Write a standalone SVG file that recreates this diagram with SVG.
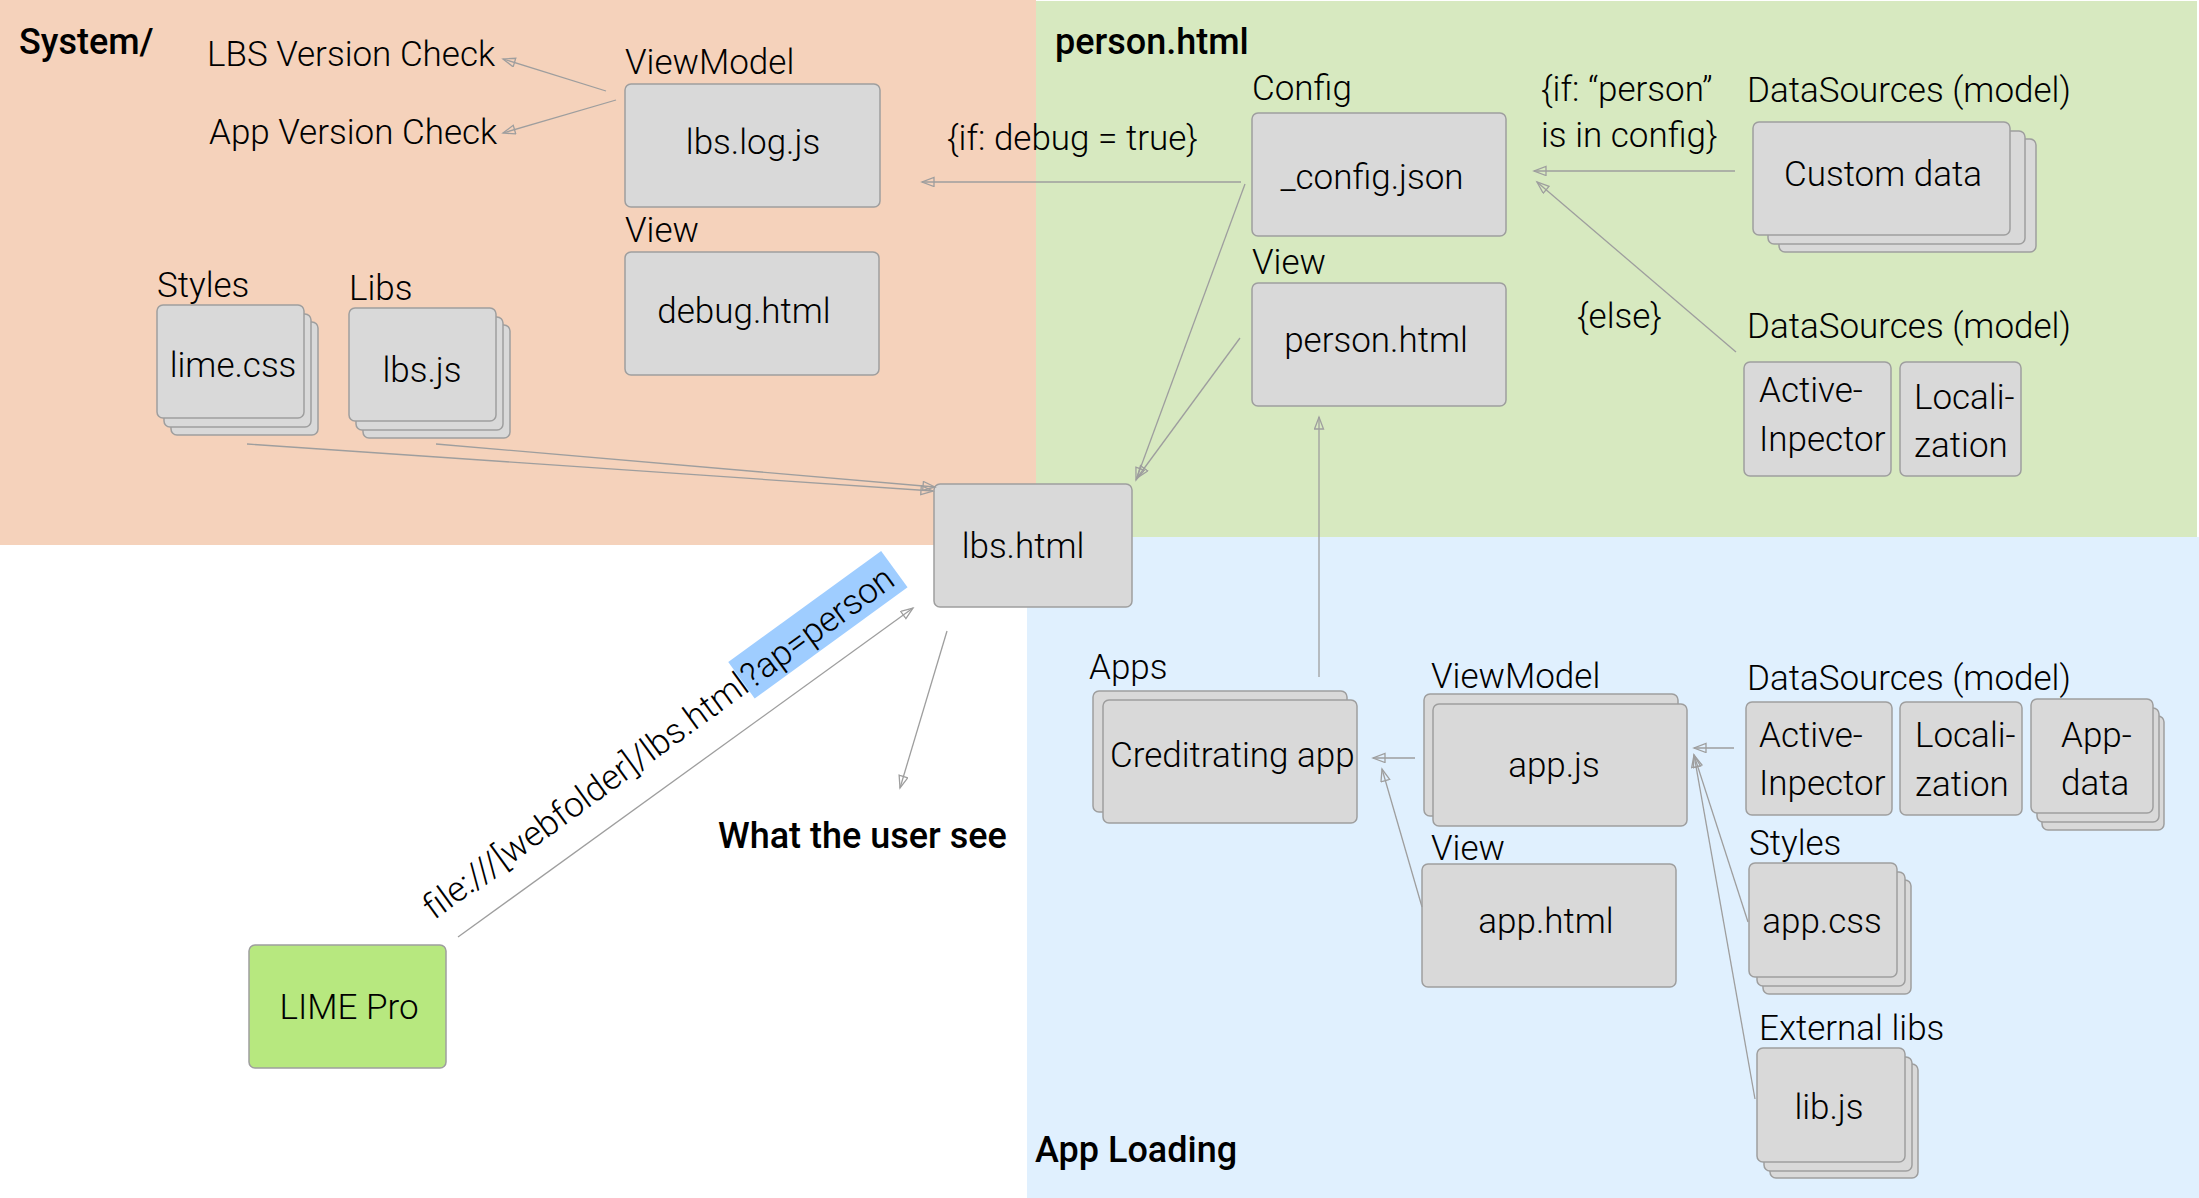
<svg xmlns="http://www.w3.org/2000/svg" width="2199" height="1198" viewBox="0 0 2199 1198">
<defs>
<style>
.bx{fill:#d9d9d9;stroke:#9e9e9e;stroke-width:1.5}
.lime{fill:#b7e87f;stroke:#9e9e9e;stroke-width:1.5}
.t{font-family:"Roboto Light",Roboto,"Liberation Sans",sans-serif;font-weight:300;font-size:35px;fill:#000}
.h{font-family:Roboto,"Liberation Sans",sans-serif;font-weight:500;font-size:36px}
.c{text-anchor:middle}
.ln{stroke:#9e9e9e;stroke-width:1.3;fill:none;marker-end:url(#ah)}
</style>
<marker id="ah" markerUnits="userSpaceOnUse" markerWidth="16" markerHeight="12" refX="13" refY="5" orient="auto" viewBox="0 0 16 12">
<path d="M1,0.5 L13,5 L1,9.5 Z" fill="none" stroke="#9e9e9e" stroke-width="1.3"/>
</marker>
</defs>

<g id="backgrounds">
<rect x="0" y="0" width="1036" height="545" fill="#f5d2bb"/>
<rect x="1036" y="1" width="1161" height="536" fill="#d7e9c0"/>
<rect x="1027" y="537" width="1172" height="661" fill="#e0f0fe"/>
</g>

<g id="titles">
<text class="t h" x="19" y="54">System/</text>
<text class="t h" x="1055" y="54">person.html</text>
<text class="t h" x="1035" y="1162">App Loading</text>
<text class="t h" x="718" y="848">What the user see</text>
</g>

<g id="labels">
<text class="t" x="207" y="66">LBS Version Check</text>
<text class="t" x="209" y="144">App Version Check</text>
<text class="t" x="625" y="74">ViewModel</text>
<text class="t" x="625" y="242">View</text>
<text class="t" x="157" y="297">Styles</text>
<text class="t" x="349" y="300">Libs</text>
<text class="t" x="947" y="150">{if: debug = true}</text>
<text class="t" x="1252" y="100">Config</text>
<text class="t" x="1252" y="274">View</text>
<text class="t" x="1541" y="101">{if: “person”</text>
<text class="t" x="1541" y="147">is in config}</text>
<text class="t" x="1747" y="102">DataSources (model)</text>
<text class="t" x="1577" y="328">{else}</text>
<text class="t" x="1747" y="338">DataSources (model)</text>
<text class="t" x="1089" y="679">Apps</text>
<text class="t" x="1431" y="688">ViewModel</text>
<text class="t" x="1431" y="860">View</text>
<text class="t" x="1747" y="690">DataSources (model)</text>
<text class="t" x="1749" y="855">Styles</text>
<text class="t" x="1759" y="1040">External libs</text>
</g>

<g id="lbs-log-js">
<rect class="bx" x="625" y="84" width="255" height="123" rx="6"/>
<text class="t c" x="753" y="154">lbs.log.js</text>
</g>
<g id="debug-html">
<rect class="bx" x="625" y="252" width="254" height="123" rx="6"/>
<text class="t c" x="744" y="323">debug.html</text>
</g>
<g id="lime-css">
<rect class="bx" x="171" y="322" width="147" height="113" rx="6"/>
<rect class="bx" x="164" y="314" width="147" height="113" rx="6"/>
<rect class="bx" x="157" y="305" width="147" height="113" rx="6"/>
<text class="t c" x="233" y="377">lime.css</text>
</g>
<g id="lbs-js">
<rect class="bx" x="363" y="325" width="147" height="113" rx="6"/>
<rect class="bx" x="356" y="317" width="147" height="113" rx="6"/>
<rect class="bx" x="349" y="308" width="147" height="113" rx="6"/>
<text class="t c" x="422" y="382">lbs.js</text>
</g>
<g id="lbs-html">
<rect class="bx" x="934" y="484" width="198" height="123" rx="6"/>
<text class="t c" x="1023" y="558">lbs.html</text>
</g>
<g id="config-json">
<rect class="bx" x="1252" y="113" width="254" height="123" rx="6"/>
<text class="t c" x="1372" y="189">_config.json</text>
</g>
<g id="person-html">
<rect class="bx" x="1252" y="283" width="254" height="123" rx="6"/>
<text class="t c" x="1376" y="352">person.html</text>
</g>
<g id="custom-data">
<rect class="bx" x="1779" y="139" width="257" height="113" rx="6"/>
<rect class="bx" x="1768" y="131" width="257" height="113" rx="6"/>
<rect class="bx" x="1753" y="122" width="257" height="113" rx="6"/>
<text class="t c" x="1883" y="186">Custom data</text>
</g>
<g id="active-inpector-1">
<rect class="bx" x="1744" y="362" width="147" height="114" rx="6"/>
<text class="t" x="1759" y="402">Active-</text>
<text class="t" x="1759" y="451">Inpector</text>
</g>
<g id="localization-1">
<rect class="bx" x="1900" y="362" width="121" height="114" rx="6"/>
<text class="t" x="1914" y="409">Locali-</text>
<text class="t" x="1914" y="457">zation</text>
</g>
<g id="lime-pro">
<rect class="lime" x="249" y="945" width="197" height="123" rx="6"/>
<text class="t c" x="349" y="1019">LIME Pro</text>
</g>
<g id="creditrating-app">
<rect class="bx" x="1093" y="691" width="254" height="121" rx="6"/>
<rect class="bx" x="1103" y="700" width="254" height="123" rx="6"/>
<text class="t" x="1110" y="767">Creditrating app</text>
</g>
<g id="app-js">
<rect class="bx" x="1424" y="694" width="254" height="122" rx="6"/>
<rect class="bx" x="1433" y="704" width="254" height="122" rx="6"/>
<text class="t c" x="1554" y="777">app.js</text>
</g>
<g id="app-html">
<rect class="bx" x="1422" y="864" width="254" height="123" rx="6"/>
<text class="t c" x="1546" y="933">app.html</text>
</g>
<g id="active-inpector-2">
<rect class="bx" x="1746" y="702" width="146" height="113" rx="6"/>
<text class="t" x="1759" y="747">Active-</text>
<text class="t" x="1759" y="795">Inpector</text>
</g>
<g id="localization-2">
<rect class="bx" x="1900" y="702" width="122" height="113" rx="6"/>
<text class="t" x="1915" y="747">Locali-</text>
<text class="t" x="1915" y="796">zation</text>
</g>
<g id="app-data">
<rect class="bx" x="2042" y="716" width="122" height="114" rx="6"/>
<rect class="bx" x="2037" y="708" width="122" height="114" rx="6"/>
<rect class="bx" x="2031" y="699" width="122" height="114" rx="6"/>
<text class="t" x="2061" y="747">App-</text>
<text class="t" x="2061" y="795">data</text>
</g>
<g id="app-css">
<rect class="bx" x="1763" y="880" width="148" height="114" rx="6"/>
<rect class="bx" x="1757" y="872" width="148" height="114" rx="6"/>
<rect class="bx" x="1749" y="863" width="148" height="114" rx="6"/>
<text class="t c" x="1822" y="933">app.css</text>
</g>
<g id="lib-js">
<rect class="bx" x="1770" y="1064" width="148" height="114" rx="6"/>
<rect class="bx" x="1764" y="1057" width="148" height="114" rx="6"/>
<rect class="bx" x="1757" y="1048" width="148" height="114" rx="6"/>
<text class="t c" x="1829" y="1119">lib.js</text>
</g>

<g id="url-label" transform="translate(751,690) rotate(-36)">
<rect x="-2" y="-36" width="189" height="45" fill="#9fcdff"/>
<text class="t" x="0" y="0" text-anchor="end">file:///[webfolder]/lbs.html</text>
<text class="t" x="1" y="0">?ap=person</text>
</g>

<g id="connectors">
<line class="ln" x1="606" y1="91" x2="503" y2="59"/>
<line class="ln" x1="616" y1="100" x2="503" y2="133"/>
<line class="ln" x1="1241" y1="182" x2="922" y2="182"/>
<line class="ln" x1="247" y1="444" x2="933" y2="491"/>
<line class="ln" x1="436" y1="444" x2="935" y2="487"/>
<line class="ln" x1="1245" y1="184" x2="1136" y2="480"/>
<line class="ln" x1="1240" y1="338" x2="1137" y2="478"/>
<line class="ln" x1="1735" y1="171" x2="1534" y2="171"/>
<line class="ln" x1="1736" y1="352" x2="1537" y2="182"/>
<line class="ln" x1="1319" y1="677" x2="1319" y2="417"/>
<line class="ln" x1="1415" y1="758" x2="1373" y2="758"/>
<line class="ln" x1="1422" y1="907" x2="1382" y2="769"/>
<line class="ln" x1="1734" y1="748" x2="1694" y2="748"/>
<line class="ln" x1="1748" y1="922" x2="1694" y2="755"/>
<line class="ln" x1="1755" y1="1099" x2="1694" y2="755"/>
<line class="ln" x1="458" y1="937" x2="913" y2="608"/>
<line class="ln" x1="947" y1="631" x2="900" y2="788"/>
</g>
</svg>
